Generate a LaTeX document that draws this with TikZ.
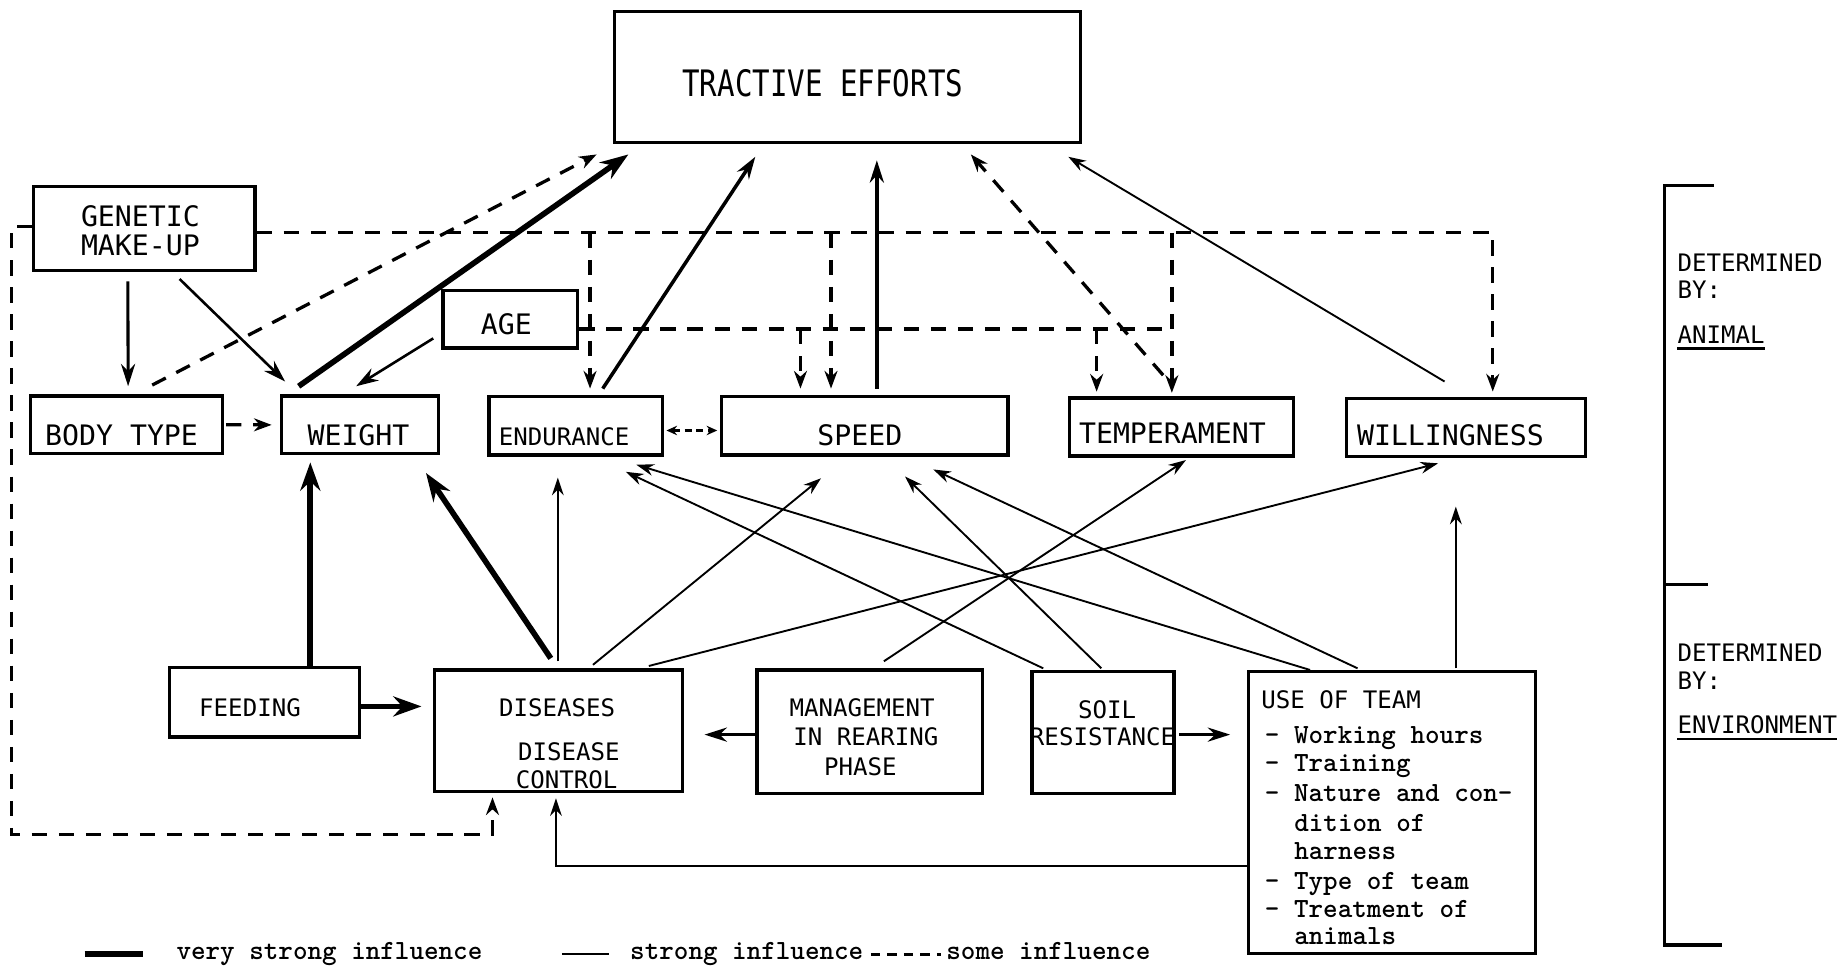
\documentclass[tikz,border=0pt]{standalone}
\usepackage{fontspec}
\usetikzlibrary{arrows.meta,calc}
\newfontfamily\monoF{DejaVu Sans Mono}
\newfontfamily\monoN[FakeStretch=0.8]{DejaVu Sans Mono}
\begin{document}
\begin{tikzpicture}[x=1pt,y=-1pt,
  box/.style={draw,line width=2.8pt,inner sep=0pt},
  biglab/.style={inner sep=0pt,anchor=base,font=\monoN\fontsize{31}{31}\selectfont},
  monolab/.style={inner sep=0pt,anchor=base,font=\monoF\fontsize{24}{24}\selectfont},
  smalllab/.style={inner sep=0pt,anchor=base,font=\monoF\fontsize{20.5}{20.5}\selectfont},
  typelab/.style={inner sep=0pt,anchor=base west,font=\ttfamily\bfseries\fontsize{23.6}{23.6}\selectfont},
  vstrong/.style={line width=4.8pt,-{Stealth[length=24pt,width=17pt]}},
  medium/.style={line width=2.6pt,-{Stealth[length=19pt,width=12pt]}},
  strong/.style={line width=1.6pt,-{Stealth[length=15pt,width=10pt]}},
  some/.style={line width=2.8pt,dash pattern=on 13pt off 10pt},
  somearrow/.style={some,-{Stealth[length=15pt,width=11pt]}},
  rulebar/.style={line width=2.6pt}
]
\fill[white] (0,0) rectangle (1568,824);
\useasboundingbox (0,0) rectangle (1568,824);

% ---------------- boxes ----------------
\node[box,minimum width=396pt,minimum height=111pt] (tractive) at (721,65.5) {};
\node[box,minimum width=188.4pt,minimum height=71.2pt] (genetic) at (122.8,194.4) {};
\node[box,minimum width=163pt,minimum height=48.6pt] (bodytype) at (107.5,361.3) {};
\node[box,minimum width=133.8pt,minimum height=49pt] (weight) at (306.4,361.5) {};
\node[box,minimum width=114.5pt,minimum height=49pt] (age) at (434.25,271.5) {};
\node[box,minimum width=147.6pt,minimum height=49.5pt] (endurance) at (489.8,362.25) {};
\node[box,minimum width=244pt,minimum height=49.5pt] (speed) at (735.6,362.25) {};
\node[box,minimum width=190.6pt,minimum height=49.4pt] (temperament) at (1005.3,363.3) {};
\node[box,minimum width=203.3pt,minimum height=49.5pt] (willingness) at (1247.35,363.75) {};
\node[box,minimum width=161.5pt,minimum height=59pt] (feeding) at (225.25,597.5) {};
\node[box,minimum width=211pt,minimum height=103.5pt] (diseases) at (475.3,621.75) {};
\node[box,minimum width=192pt,minimum height=104.8pt] (management) at (740,622.4) {};
\node[box,minimum width=120.7pt,minimum height=104pt] (soil) at (938.35,623) {};
\node[box,minimum width=244.6pt,minimum height=239.6pt] (useteam) at (1184.3,691.2) {};

% ---------------- box texts ----------------
\node[biglab] (tractiveT) at (700,82.3) {TRACTIVE EFFORTS};
\node[monolab] (geneticT1) at (119.5,193) {GENETIC};
\node[monolab] (geneticT2) at (119.5,217) {MAKE-UP};
\node[monolab] (bodytypeT) at (103.4,378.6) {BODY TYPE};
\node[monolab] (weightT) at (305,378.6) {WEIGHT};
\node[monolab] (ageT) at (430.8,285) {AGE};
\node[smalllab] (enduranceT) at (480,378.6) {ENDURANCE};
\node[monolab] (speedT) at (731.5,378.6) {SPEED};
\node[monolab] (temperamentT) at (997.5,377.5) {TEMPERAMENT};
\node[monolab] (willingnessT) at (1234,378.6) {WILLINGNESS};
\node[smalllab] (feedingT) at (212.7,609.7) {FEEDING};
\node[smalllab] (diseasesT1) at (474,609.7) {DISEASES};
\node[smalllab] (diseasesT2) at (484,646.6) {DISEASE};
\node[smalllab] (diseasesT3) at (482,670.7) {CONTROL};
\node[smalllab] (managementT1) at (733.5,609.7) {MANAGEMENT};
\node[smalllab] (managementT2) at (736.7,634) {IN REARING};
\node[smalllab] (managementT3) at (732,659.4) {PHASE};
\node[smalllab] (soilT1) at (942,611) {SOIL};
\node[smalllab] (soilT2) at (938,634) {RESISTANCE};
\node[smalllab,anchor=base west] (useteamT) at (1073,602.6) {USE OF TEAM};
\node[typelab] (item1) at (1076,632.5) {- Working hours};
\node[typelab] (item2) at (1076,656.5) {- Training};
\node[typelab] (item3) at (1076,682) {- Nature and con-};
\node[typelab] (item3b) at (1101,707.5) {dition of};
\node[typelab] (item3c) at (1101,731.5) {harness};
\node[typelab] (item4) at (1076,756.5) {- Type of team};
\node[typelab] (item5) at (1076,780.5) {- Treatment of};
\node[typelab] (item5b) at (1101,803.5) {animals};

% ---------------- side bracket ----------------
\draw[rulebar] (1458,158) -- (1416,158) -- (1416,804) -- (1465,804);
\draw[rulebar] (1416,497) -- (1453,497);
\node[smalllab,anchor=base west] (detA) at (1427,231) {DETERMINED};
\node[smalllab,anchor=base west] (byA) at (1427,254) {BY:};
\node[smalllab,anchor=base west] (animalT) at (1427,292) {ANIMAL};
\draw[line width=1.8pt] ($(animalT.base west)+(0,4.5)$) -- ($(animalT.base east)+(0,4.5)$);
\node[smalllab,anchor=base west] (detE) at (1427,563) {DETERMINED};
\node[smalllab,anchor=base west] (byE) at (1427,587) {BY:};
\node[smalllab,anchor=base west] (envT) at (1427,624) {ENVIRONMENT};
\draw[line width=1.8pt] ($(envT.base west)+(0,4.5)$) -- ($(envT.base east)+(0,4.5)$);

% ---------------- legend ----------------
\draw[line width=5pt] (72,812) -- (122,812);
\node[typelab] (legVS) at (150,816) {very strong influence};
\draw[line width=1.6pt] (478,812) -- (518,812);
\node[typelab] (legS) at (536,816) {strong influence};
\draw[line width=2.2pt,dash pattern=on 8pt off 6pt] (741,812) -- (801,812);
\node[typelab] (legSo) at (805,816) {some influence};

% ---------------- connectors ----------------
% genetic make-up
\draw[medium] ($(genetic.south)+(-14,8)$) -- ($(bodytype.north)+(1.5,-7)$);
\draw[medium,line width=2.2pt] ($(genetic.south)+(30,6)$) -- ($(weight.north west)+(4.5,-11)$);
\draw[somearrow] ($(bodytype.north)+(22,-8)$) -- ($(tractive.south west)+(-14,9)$);
\draw[vstrong] ($(weight.north west)+(16,-7)$) -- ($(tractive.south west)+(13,9)$);
\draw[medium,line width=2.2pt] ($(age.south west)+(-7,-9.5)$) -- ($(weight.north)+(-3.4,-7)$);
\draw[somearrow] ($(bodytype.east)+(2,0)$) -- ($(weight.west)+(-7,0)$);
\draw[medium,line width=3pt] ($(endurance.north)+(23,-5.5)$) -- ($(tractive.south west)+(121,11)$);
\draw[medium,line width=3pt] ($(speed.north)+(10.4,-5.5)$) -- ($(tractive.south)+(25,14)$);
\draw[somearrow] ($(temperament.north)+(-15.7,-18)$) -- ($(tractive.south)+(105,9)$);
\draw[strong] ($(willingness.north)+(-18.35,-13)$) -- ($(tractive.south east)+(-11.5,11)$);

% dashed network from genetic make-up
\coordinate (gl) at ($(genetic.east)+(0,3.6)$);
\coordinate (wiT) at ($(willingness.north)+(22.65,-4.5)$);
\coordinate (enT) at ($(endurance.north)+(12.2,-5.5)$);
\coordinate (spT1) at ($(speed.north)+(-28.6,-5.5)$);
\coordinate (teT1) at ($(temperament.north)+(-8.3,-3)$);
\draw[somearrow] (gl) -| (wiT);
\draw[somearrow] (gl -| enT) -- (enT);
\draw[somearrow] (gl -| spT1) -- (spT1);
\draw[somearrow] (gl -| teT1) -- (teT1);
\coordinate (diT1) at ($(diseases.south)+(-56.3,3.5)$);
\draw[somearrow] ($(genetic.west)+(0,-1.4)$) -- ++(-17.6,0) -- ++(0,517) -| (diT1);

% dashed network from age
\coordinate (al) at ($(age.east)+(0,8.5)$);
\coordinate (spT2) at ($(speed.north)+(-54.6,-5.5)$);
\coordinate (teT2) at ($(temperament.north)+(-72.3,-4)$);
\draw[some] (al) -- (al -| teT1);
\draw[somearrow] (al -| spT2) -- (spT2);
\draw[somearrow] (al -| teT2) -- (teT2);

% endurance <-> speed
\draw[line width=2.2pt,dash pattern=on 6pt off 4pt,{Stealth[length=9pt,width=8pt]}-{Stealth[length=9pt,width=8pt]}] ($(endurance.east)+(2,4)$) -- ($(speed.west)+(-2,4)$);

% feeding and diseases
\draw[vstrong] ($(feeding.north)+(38.75,0)$) -- ($(weight.south)+(-42.4,6)$);
\draw[vstrong] ($(feeding.east)+(0,3.5)$) -- ($(diseases.west)+(-9.8,-20.75)$);
\draw[vstrong] ($(diseases.north)+(-6.7,-8.5)$) -- ($(weight.south east)+(-12.3,15)$);
\draw[strong] ($(diseases.north)+(-0.7,-6)$) -- ($(endurance.south)+(-15.2,18)$);
\draw[strong] ($(diseases.north)+(29.2,-3)$) -- ($(speed.south)+(-37.1,18.5)$);
\draw[strong] ($(diseases.north)+(76.7,-2)$) -- ($(willingness.south)+(-23.85,4.3)$);

% environment factors
\draw[strong] ($(management.north)+(12,-6)$) -- ($(temperament.south)+(3.7,2)$);
\draw[strong] ($(soil.north west)+(11,-1)$) -- ($(endurance.south east)+(-32.6,13)$);
\draw[strong] ($(useteam.north west)+(54,0)$) -- ($(endurance.south east)+(-23.6,7)$);
\draw[strong] ($(soil.north)+(-1.35,-1)$) -- ($(speed.south)+(34.4,17)$);
\draw[strong] ($(useteam.north)+(-29.3,-1.4)$) -- ($(speed.south)+(58.4,11)$);
\draw[strong] ($(useteam.north)+(54.3,-1.4)$) -- ($(willingness.south)+(-8.75,41.1)$);
\draw[medium] ($(management.west)+(0,2.6)$) -- ($(diseases.east)+(17.2,3.25)$);
\draw[medium] ($(soil.east)+(3,2)$) -- ($(useteam.west)+(-14,-66.2)$);
\draw[strong] ($(useteam.west)+(0,45.8)$) -| ($(diseases.south)+(-2.3,4.3)$);
\end{tikzpicture}
\end{document}
